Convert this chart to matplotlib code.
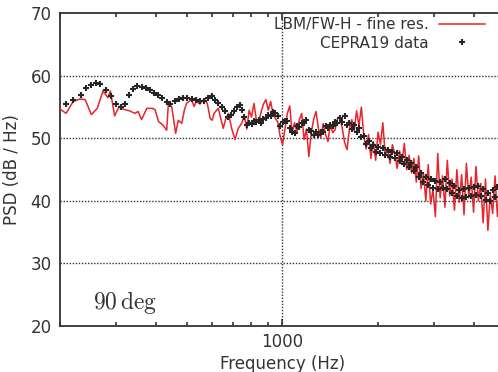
import numpy as np
import matplotlib
matplotlib.use("Agg")
import matplotlib.pyplot as plt
from matplotlib.ticker import LogLocator, NullFormatter, FixedLocator, FixedFormatter

# ---------------- data ----------------
lbm_freq_lo = [200, 209, 220, 231, 240, 251, 262, 273, 283, 288, 297, 307, 315, 331, 344,
               352, 361, 375, 390, 398, 408, 422, 433, 438, 449, 462, 471, 483, 492, 500,
               509, 518, 528, 536, 551, 560, 570, 581, 593, 602, 610, 629, 652, 663, 677,
               693, 710, 727, 745]
lbm_psd_lo = [54.7, 54.0, 55.9, 56.3, 56.2, 53.8, 54.8, 57.6, 56.5, 57.6, 53.6, 55.1, 54.7, 54.4, 54.0,
              54.3, 53.0, 54.8, 54.8, 54.6, 52.7, 52.1, 51.3, 55.3, 55.1, 50.8, 52.9, 52.4, 54.5, 55.6,
              55.9, 56.2, 55.1, 55.9, 55.5, 56.0, 56.2, 55.6, 53.2, 52.9, 54.0, 54.8, 51.6, 53.0, 54.0,
              51.6, 49.8, 51.6, 52.4]

cepra_freq_lo = [209, 220, 232, 241, 250, 259, 268, 279, 290, 301, 310, 320, 330, 340, 350,
                 361, 373, 384, 395, 408, 420, 433, 445, 459, 472, 488, 503, 519, 534, 551,
                 567, 585, 602, 615, 630, 645, 660, 675, 690, 705, 720, 735, 748]
cepra_psd_lo = [55.5, 56.1, 56.9, 58.0, 58.5, 58.8, 58.7, 57.7, 56.7, 55.5, 55.0, 55.5, 56.9, 57.9, 58.4,
                58.2, 58.0, 57.7, 57.3, 56.9, 56.4, 55.8, 55.5, 55.9, 56.3, 56.5, 56.5, 56.3, 56.1, 55.9,
                56.0, 56.4, 56.8, 56.2, 55.6, 55.0, 54.3, 53.4, 53.8, 54.4, 55.0, 55.3, 54.6]

# shared high-frequency bins (760 Hz .. 5000 Hz)
freq_hi = np.geomspace(760, 5000, 110)

cepra_psd_hi = [53.4, 52.2, 52.5, 52.3, 52.8, 52.6, 53.0, 52.5, 53.1, 53.2,
                53.8, 53.5, 54.2, 54.0, 53.6, 52.0, 52.6, 52.8, 52.8, 51.6,
                51.1, 50.9, 51.9, 51.8, 52.5, 52.4, 52.9, 51.4, 51.2, 50.6,
                51.1, 50.5, 51.1, 51.1, 51.9, 51.7, 52.2, 52.0, 52.6, 52.4,
                53.2, 52.6, 53.6, 52.2, 52.5, 51.5, 52.2, 51.0, 51.7, 50.2,
                50.4, 49.1, 49.6, 48.4, 49.0, 47.9, 48.7, 47.6, 48.4, 47.3,
                48.1, 47.0, 47.9, 46.8, 47.6, 46.4, 47.1, 45.9, 46.5, 45.4,
                46.0, 44.8, 45.4, 43.8, 44.5, 43.0, 43.9, 42.5, 43.5, 42.0,
                43.2, 41.9, 43.1, 42.0, 43.5, 41.9, 42.9, 41.3, 42.4, 40.8,
                41.8, 40.5, 41.9, 40.7, 42.1, 40.8, 42.3, 41.0, 42.4, 40.8,
                41.9, 40.2, 41.3, 40.0, 41.8, 40.6, 42.2, 40.6, 41.6, 40.0]

lbm_psd_hi = [53.6, 51.5, 54.5, 53.4, 55.6, 53.0, 52.7, 54.2, 55.5, 56.2,
              54.5, 55.9, 53.9, 53.2, 52.6, 50.3, 49.0, 51.5, 54.0, 55.2,
              50.8, 52.5, 51.0, 53.0, 54.0, 49.8, 51.5, 47.1, 50.9, 53.0,
              54.3, 51.6, 50.1, 52.4, 50.6, 49.5, 52.2, 50.9, 51.4, 53.2,
              53.5, 51.6, 49.3, 48.2, 51.5, 53.0, 51.2, 54.4, 52.0, 55.0,
              50.5, 48.3, 50.6, 46.8, 49.5, 46.5, 51.0, 49.0, 52.5, 47.2,
              48.5, 46.0, 49.0, 47.5, 45.2, 48.0, 46.0, 49.2, 45.0, 47.3,
              44.5, 46.8, 43.0, 47.2, 42.0, 44.5, 40.0, 45.8, 39.5, 41.8,
              37.5, 47.6, 40.5, 44.0, 39.0, 46.5, 40.8, 43.5, 38.5, 45.0,
              39.8, 44.2, 37.8, 46.0, 40.5, 43.8, 38.2, 45.5, 40.0, 42.8,
              36.5, 43.5, 35.3, 41.0, 38.0, 44.0, 37.5, 42.5, 38.8, 41.5]

lbm_freq = np.concatenate([lbm_freq_lo, freq_hi])
lbm_psd = np.concatenate([lbm_psd_lo, lbm_psd_hi])
cepra_freq = np.concatenate([cepra_freq_lo, freq_hi])
cepra_psd = np.concatenate([cepra_psd_lo, cepra_psd_hi])

yticks = [20, 30, 40, 50, 60, 70]
xmajor = [1000]
xmajor_labels = ["1000"]
legend_labels = ["LBM/FW-H - fine res.", "CEPRA19 data"]
annotation = r"$90\,\mathrm{deg}$"

# ---------------- figure ----------------
plt.rcParams["font.family"] = ["DejaVu Sans"]
plt.rcParams["mathtext.fontset"] = "cm"
TXT = "#333333"

fig = plt.figure(figsize=(4.98, 3.72), dpi=100)
W, H = 498, 372
ax = fig.add_axes([60 / W, (H - 326) / H, (504.6 - 60) / W, (326 - 13.3) / H])

ax.set_xscale("log")
ax.set_xlim(200, 5000)
ax.set_ylim(20, 70)

red, = ax.plot(lbm_freq, lbm_psd, color="#e8242a", lw=1.1, zorder=3)
blk, = ax.plot(cepra_freq, cepra_psd, ls="none", marker="+", ms=4.6, mew=1.5,
               color="#262626", zorder=4)

# grid
for y in yticks[1:-1]:
    ax.axhline(y, color="#333333", lw=1.0, ls=(0, (1, 1.2)), zorder=1)
ax.axvline(1000, color="#333333", lw=1.0, ls=(0, (1, 1.2)), zorder=1)

# ticks
ax.xaxis.set_major_locator(FixedLocator(xmajor))
ax.xaxis.set_major_formatter(FixedFormatter(xmajor_labels))
ax.xaxis.set_minor_locator(LogLocator(base=10, subs=np.arange(2, 10)))
ax.xaxis.set_minor_formatter(NullFormatter())
ax.tick_params(axis="x", which="both", direction="in", top=True, colors="#333333",
               labelcolor=TXT, labelsize=12, pad=5)
ax.tick_params(axis="x", which="minor", length=3, width=1.2)
ax.tick_params(axis="x", which="major", length=5, width=1.2)
ax.set_yticks(yticks)
ax.tick_params(axis="y", length=0, labelsize=12, labelcolor=TXT, pad=6)

for s in ["left", "bottom", "top", "right"]:
    ax.spines[s].set_color("#333333")
    ax.spines[s].set_linewidth(1.3)

ax.set_xlabel("Frequency (Hz)", fontsize=12, color=TXT, labelpad=3)
ax.set_ylabel("PSD (dB / Hz)", fontsize=12, color=TXT, labelpad=7)

ax.text(0.075, 0.075, annotation, transform=ax.transAxes, fontsize=17, color=TXT,
        ha="left", va="center")

leg = fig.legend([red, blk], legend_labels, loc="upper right",
                 bbox_to_anchor=(485 / W, 1 - 17 / H), frameon=False, markerfirst=False,
                 fontsize=11, handlelength=3.0, handletextpad=0.7, labelspacing=0.25,
                 borderpad=0, borderaxespad=0)
for t in leg.get_texts():
    t.set_color(TXT)

fig.savefig("out.png", dpi=100)
